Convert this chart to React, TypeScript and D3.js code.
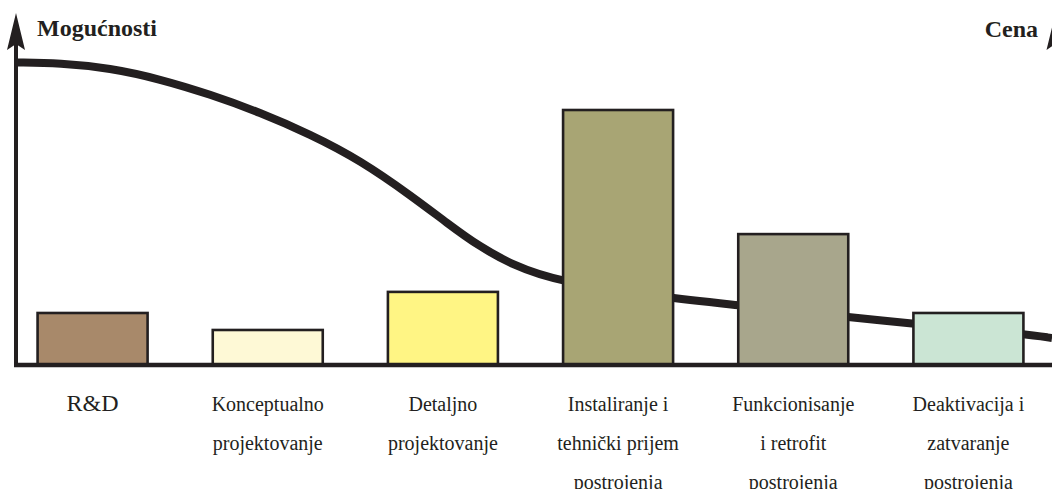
import React from "react";
import * as d3 from "d3";

const categories = [
  "R&D",
  "Konceptualno projektovanje",
  "Detaljno projektovanje",
  "Instaliranje i tehnički prijem postrojenja",
  "Funkcionisanje i retrofit postrojenja",
  "Deaktivacija i zatvaranje postrojenja",
];
const labelLines = [
  ["R&D"],
  ["Konceptualno", "projektovanje"],
  ["Detaljno", "projektovanje"],
  ["Instaliranje i", "tehnički prijem", "postrojenja"],
  ["Funkcionisanje", "i retrofit", "postrojenja"],
  ["Deaktivacija i", "zatvaranje", "postrojenja"],
];
const costValues = [15.3, 10.3, 21.5, 75, 38.5, 15.3];
const barColors = ["#a8896a", "#fef9d6", "#fff584", "#a8a574", "#a8a68c", "#cbe5d4"];

// Capability curve ("Mogućnosti"), x in % of horizontal span, y in same units as bars
const curveX = [0, 4.25, 9.07, 13.9, 18.73, 23.55, 28.38, 33.2, 38.32, 41.6, 44.79, 47.97, 52.03, 62.74, 69.69, 80.31, 86.78, 97.3, 100];
const curveY = [88.97, 88.82, 87.35, 84.1, 79.6, 74.3, 67.9, 60.29, 49.41, 41.76, 34.71, 29.41, 24.71, 19.71, 17.65, 14.12, 12.06, 9.12, 7.94];

const leftAxisTitle = "Mogućnosti";
const rightAxisTitle = "Cena";

const W = 1052;
const H = 489;
const INK = "#231f20";
const SERIF = '"Liberation Serif", Tinos, "Times New Roman", serif';

export default function App() {
  const axisX = 16;
  const baseY = 365;
  const rightAxisX = 1055.5;

  const x = d3
    .scaleBand<number>()
    .domain(d3.range(categories.length))
    .range([5, 1056])
    .paddingInner(0.372)
    .paddingOuter(0.186);

  const y = d3.scaleLinear().domain([0, 100]).range([baseY, 25]);
  const cx = d3.scaleLinear().domain([0, 100]).range([axisX, W]);

  const curvePath =
    d3
      .line<number>()
      .x((i) => cx(curveX[i]))
      .y((i) => y(curveY[i]))
      .curve(d3.curveBasis)(d3.range(curveX.length)) || "";

  const arrow = (ax: number) =>
    `M${ax},13 L${ax + 9},50 L${ax},44 L${ax - 9},50 Z`;

  const textStyle = { fontFamily: SERIF } as React.CSSProperties;

  return (
    <>
      <style>{`body{margin:0;}`}</style>
      <svg width={W} height={H} style={{ display: "block" }}>
        <rect width={W} height={H} fill="#ffffff" />
        {/* left axis */}
        <line x1={axisX} x2={axisX} y1={40} y2={baseY + 2} stroke={INK} strokeWidth={4} />
        <path d={arrow(axisX)} fill={INK} />
        {/* right axis */}
        <line x1={rightAxisX} x2={rightAxisX} y1={40} y2={baseY + 2} stroke={INK} strokeWidth={4} />
        <path d={arrow(rightAxisX)} fill={INK} />

        {/* capability curve */}
        <path d={curvePath} fill="none" stroke={INK} strokeWidth={8} />

        {/* cost bars */}
        {costValues.map((v, i) => (
          <rect
            key={i}
            x={x(i)!}
            y={y(v)}
            width={x.bandwidth()}
            height={baseY - y(v)}
            fill={barColors[i]}
            stroke={INK}
            strokeWidth={2.6}
          />
        ))}

        {/* baseline */}
        <line x1={axisX - 2} x2={W} y1={baseY} y2={baseY} stroke={INK} strokeWidth={4.5} />

        {/* category labels */}
        {labelLines.map((lines, i) => (
          <text
            key={i}
            x={x(i)! + x.bandwidth() / 2}
            textAnchor="middle"
            style={textStyle}
            fontSize={i === 0 ? 24 : 20}
            fill={INK}
          >
            {lines.map((ln, j) => (
              <tspan key={j} x={x(i)! + x.bandwidth() / 2} y={411 + j * 39}>
                {ln}
              </tspan>
            ))}
          </text>
        ))}

        {/* axis titles */}
        <text x={37} y={35.5} style={textStyle} fontWeight="bold" fontSize={24} fill={INK}>
          {leftAxisTitle}
        </text>
        <text x={1038} y={37} textAnchor="end" style={textStyle} fontWeight="bold" fontSize={24} fill={INK}>
          {rightAxisTitle}
        </text>
      </svg>
    </>
  );
}
